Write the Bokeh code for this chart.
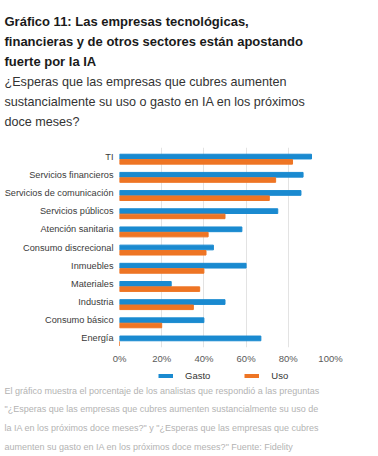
from bokeh.plotting import figure
from bokeh.models import FactorRange, Legend, LegendItem, FixedTicker, Title, Label
from bokeh.transform import dodge
from bokeh.layouts import column
from bokeh.embed import file_html
from bokeh.resources import INLINE

categories = ["TI", "Servicios financieros", "Servicios de comunicación",
              "Servicios públicos", "Atención sanitaria", "Consumo discrecional",
              "Inmuebles", "Materiales", "Industria", "Consumo básico", "Energía"]
gasto = [91, 87, 86, 75, 58, 44.5, 60, 24.5, 50, 40, 67]
uso = [82, 74, 71, 50, 42, 41, 40, 38, 35, 20, 0]
x_ticks = [0, 20, 40, 60, 80, 100]
tick_labels = ["0%", "20%", "40%", "60%", "80%", "100%"]
series_names = ["Gasto", "Uso"]

title_lines = ["Gráfico 11: Las empresas tecnológicas,",
               "financieras y de otros sectores están apostando",
               "fuerte por la IA"]
subtitle_lines = ["¿Esperas que las empresas que cubres aumenten",
                  "sustancialmente su uso o gasto en IA en los próximos",
                  "doce meses?"]
note_lines = ["El gráfico muestra el porcentaje de los analistas que respondió a las preguntas",
              "\"¿Esperas que las empresas que cubres aumenten sustancialmente su uso de",
              "la IA en los próximos doce meses?\" y \"¿Esperas que las empresas que cubres",
              "aumenten su gasto en IA en los próximos doce meses?\" Fuente: Fidelity"]

FONT = "Liberation Sans"
BLUE = "#1a8ad0"
ORANGE = "#ee7524"
W = 378
FL = 119          # frame left
BT, FH, BB = 147, 200, 20
HMAIN = BT + FH + BB
HFOOT = 456 - HMAIN

p = figure(width=W, frame_width=211, frame_height=FH, x_range=(0, 100),
           y_range=FactorRange(factors=categories[::-1], range_padding=0),
           output_backend="svg", toolbar_location=None,
           min_border_left=FL, min_border_right=48,
           min_border_top=BT, min_border_bottom=BB, frame_align=False)
p.outline_line_color = None
p.background_fill_color = None
p.border_fill_color = None

data = dict(cat=categories, gasto=gasto, uso=uso)
r1 = p.hbar(y=dodge("cat", 0.0, range=p.y_range), right="gasto", left=0,
            height=0.26, color=BLUE, source=data)
r2 = p.hbar(y=dodge("cat", -0.29, range=p.y_range), right="uso", left=0,
            height=0.25, color=ORANGE, source=data)

p.ygrid.grid_line_color = None
p.xgrid.grid_line_color = "#e3e3e3"
p.xgrid.ticker = FixedTicker(ticks=x_ticks)

p.yaxis.axis_line_color = None
p.yaxis.major_tick_line_color = None
p.yaxis.minor_tick_line_color = None
p.yaxis.major_tick_out = 0
p.yaxis.major_label_standoff = 6
p.yaxis.major_label_text_font = FONT
p.yaxis.major_label_text_font_size = "9.2px"
p.yaxis.major_label_text_color = "#3a3a3a"

p.xaxis.ticker = FixedTicker(ticks=x_ticks)
p.xaxis.major_label_overrides = {t: l for t, l in zip(x_ticks, tick_labels)}
p.xaxis.axis_line_color = None
p.xaxis.major_tick_line_color = None
p.xaxis.minor_tick_line_color = None
p.xaxis.major_tick_out = 0
p.xaxis.major_tick_in = 0
p.xaxis.major_label_standoff = 5
p.xaxis.major_label_text_font = FONT
p.xaxis.major_label_text_font_size = "9.5px"
p.xaxis.major_label_text_color = "#5a5a5a"


def add_title(text, size, color, style, standoff):
    p.add_layout(Title(text=text, align="left", offset=4 - FL, standoff=standoff,
                       text_font=FONT, text_font_size=size,
                       text_font_style=style, text_color=color), "above")


# above panels: first added is closest to the frame
add_title(" ", "1px", "#ffffff", "normal", 14.3)
for t in reversed(subtitle_lines):
    add_title(t, "12.6px", "#333333", "normal", 3.8)
for t in reversed(title_lines):
    add_title(t, "13px", "#1a1a1a", "bold", 3.3)

# ---- footnote figure (legend + note) ----
foot = figure(width=W, height=HFOOT, x_range=(0, 1), y_range=(0, 1),
              output_backend="svg", toolbar_location=None,
              x_axis_location=None, y_axis_location=None, min_border=0,
              frame_align=False)
foot.grid.visible = False
foot.outline_line_color = None
foot.background_fill_color = None
foot.border_fill_color = None

# legend swatch renderers: their points lie outside the visible range,
# they only provide the legend glyphs
lg1 = foot.line(x=[-10, -9], y=[-10, -10], line_width=4, line_color=BLUE, line_cap="butt")
lg2 = foot.line(x=[-10, -9], y=[-10, -10], line_width=4, line_color=ORANGE, line_cap="butt")
LEG_H = 11
legend = Legend(items=[LegendItem(label=series_names[0], renderers=[lg1]),
                       LegendItem(label=series_names[1], renderers=[lg2])],
                orientation="horizontal",
                location=(158, HFOOT - (375 - HMAIN) - LEG_H / 2),
                glyph_width=15, glyph_height=LEG_H, label_height=LEG_H,
                label_standoff=12, spacing=34, padding=0, margin=0,
                border_line_color=None, background_fill_alpha=0,
                label_text_font=FONT, label_text_font_size="9.5px",
                label_text_color="#333333")
foot.add_layout(legend, "center")

for i, t in enumerate(note_lines):
    py = 390 + 18.7 * i - HMAIN
    foot.add_layout(Label(x=4, y=HFOOT - py, x_units="screen", y_units="screen",
                          text=t, text_font=FONT, text_font_size="9px",
                          text_color="#b3b3b3", text_baseline="middle",
                          text_align="left"))

layout = column(p, foot, spacing=0)
open("out.html", "w").write(file_html(layout, INLINE))
